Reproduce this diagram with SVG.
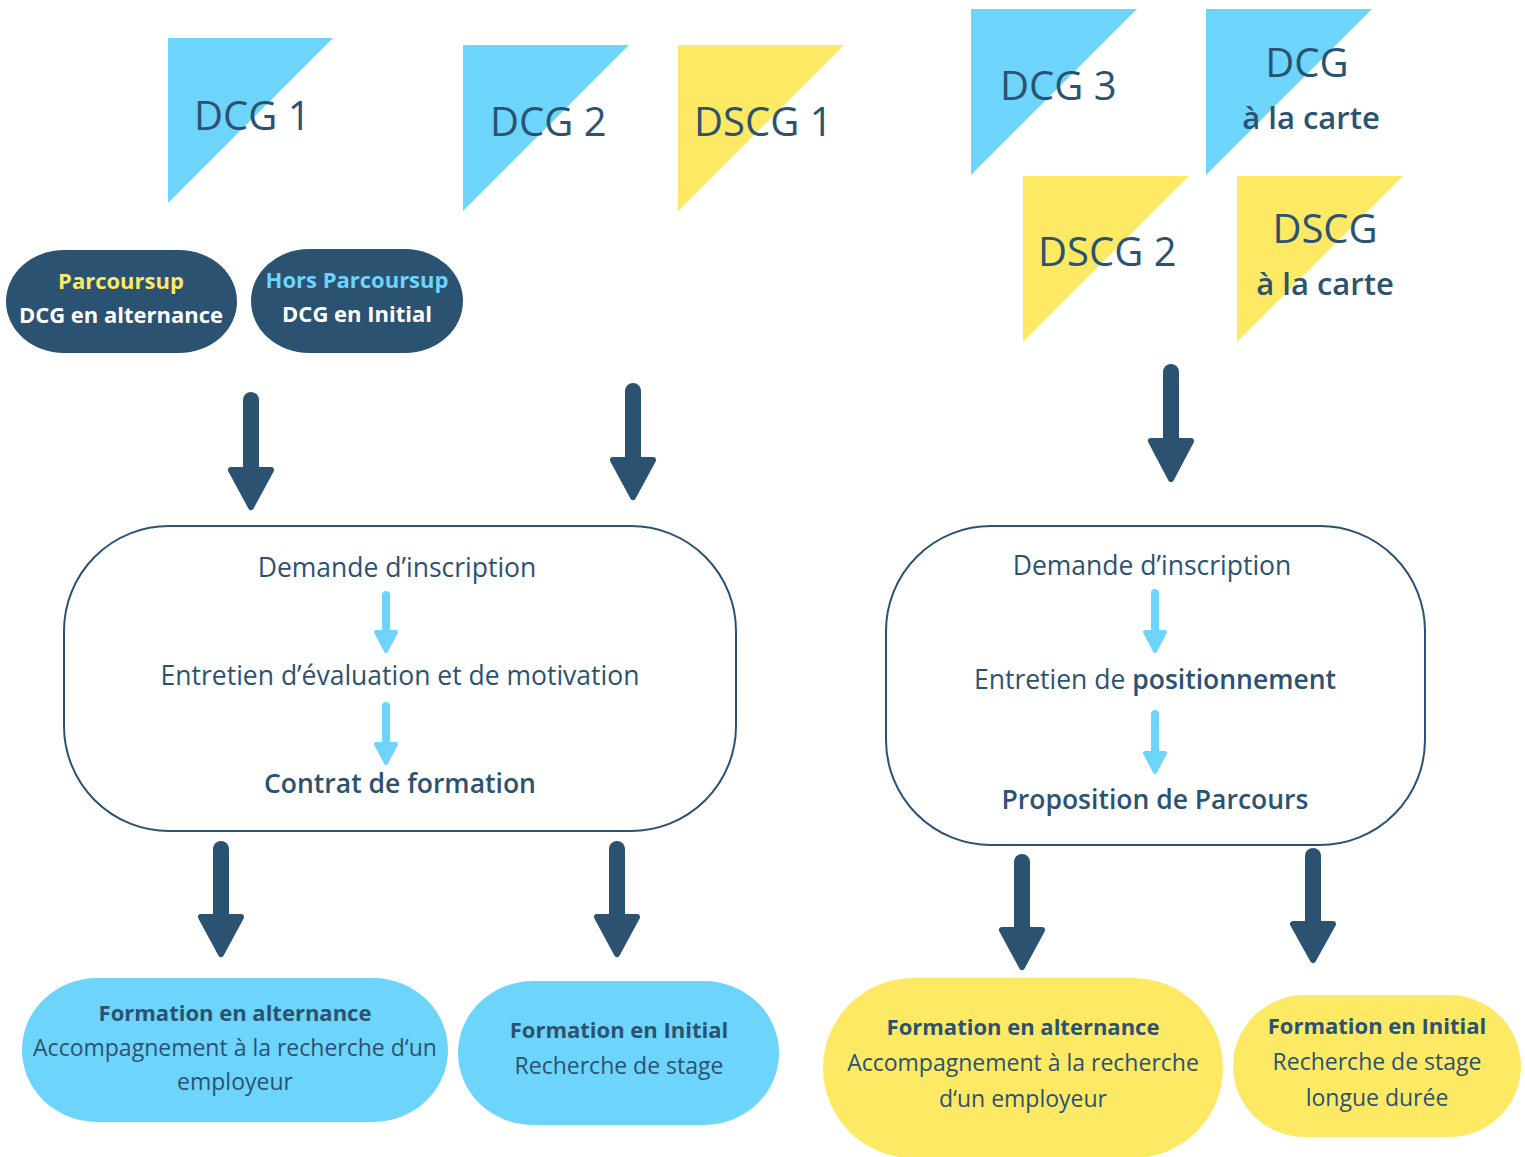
<svg xmlns="http://www.w3.org/2000/svg" width="1525" height="1157" viewBox="0 0 1525 1157">
<defs>
<style>
.blue{fill:#6dd5fb}
.yel{fill:#fee964}
.dark{fill:#2c5272}
.t{font-family:"Open Sans","Noto Sans","Liberation Sans",sans-serif;fill:#2c5272}
.big{font-size:40px}
.car{font-size:31px;font-weight:600}
.body{font-size:26.5px;text-anchor:middle}
.bb{font-weight:600}
.b{font-weight:700}
.pill{font-size:22px;text-anchor:middle}
.reg{font-size:23px}
.sh{stroke:#2c5272;stroke-width:16;stroke-linecap:round;fill:none}
.hd{fill:#2c5272;stroke:#2c5272;stroke-width:6;stroke-linejoin:round}
.lsh{stroke:#6dd5fb;stroke-width:8;stroke-linecap:round;fill:none}
.lhd{fill:#6dd5fb;stroke:#6dd5fb;stroke-width:4;stroke-linejoin:round}
.box{fill:#fff;stroke:#2c5272;stroke-width:2}
</style>
</defs>
<rect width="1525" height="1157" fill="#fff"/>

<g id="dcg1"><polygon class="blue" points="168,38 333,38 168,203"/><text class="t big" x="194" y="130">DCG 1</text></g>
<g id="dcg2"><polygon class="blue" points="463,45 629,45 463,211"/><text class="t big" x="490" y="136">DCG 2</text></g>
<g id="dscg1"><polygon class="yel" points="678,45 844,45 678,211"/><text class="t big" x="694" y="136">DSCG 1</text></g>
<g id="dcg3"><polygon class="blue" points="971,9 1137,9 971,175"/><text class="t big" x="1000" y="100">DCG 3</text></g>
<g id="dcg-carte"><polygon class="blue" points="1206,9 1372,9 1206,175"/><text class="t big" x="1307" y="77" text-anchor="middle">DCG</text><text class="t car" x="1311" y="129" text-anchor="middle">à la carte</text></g>
<g id="dscg2"><polygon class="yel" points="1023,176 1189,176 1023,342"/><text class="t big" x="1038" y="266">DSCG 2</text></g>
<g id="dscg-carte"><polygon class="yel" points="1237,176 1403,176 1237,342"/><text class="t big" x="1325" y="243" text-anchor="middle">DSCG</text><text class="t car" x="1325" y="295" text-anchor="middle">à la carte</text></g>

<g id="parcoursup"><rect class="dark" x="6" y="250" width="231" height="103" rx="58" ry="51.5"/><text class="t pill b" x="121" y="289" style="fill:#fee964">Parcoursup</text><text class="t pill b" x="121" y="323" style="fill:#fff">DCG en alternance</text></g>
<g id="hors-parcoursup"><rect class="dark" x="251" y="249" width="212" height="104" rx="58" ry="52"/><text class="t pill b" x="357" y="288" style="fill:#6dd5fb">Hors Parcoursup</text><text class="t pill b" x="357" y="322" style="fill:#fff">DCG en Initial</text></g>

<g id="box-dcg"><rect class="box" x="64" y="526" width="672" height="305" rx="105" ry="105"/>
<text class="t body" x="397" y="577">Demande d’inscription</text>
<text class="t body" x="400" y="685">Entretien d’évaluation et de motivation</text>
<text class="t body bb" x="400" y="793">Contrat de formation</text>
<line class="lsh" x1="386" y1="595" x2="386" y2="632"/><polygon class="lhd" points="376,632 396,632 386,651"/>
<line class="lsh" x1="386" y1="706" x2="386" y2="744"/><polygon class="lhd" points="376,744 396,744 386,763"/>
</g>

<g id="box-dscg"><rect class="box" x="886" y="526" width="539" height="319" rx="105" ry="105"/>
<text class="t body" x="1152" y="575">Demande d’inscription</text>
<text class="t body" x="1155" y="689">Entretien de <tspan class="bb">positionnement</tspan></text>
<text class="t body bb" x="1155" y="809">Proposition de Parcours</text>
<line class="lsh" x1="1155" y1="593" x2="1155" y2="632"/><polygon class="lhd" points="1145,632 1165,632 1155,651"/>
<line class="lsh" x1="1155" y1="714" x2="1155" y2="753"/><polygon class="lhd" points="1145,753 1165,753 1155,772"/>
</g>

<g id="alt-dcg"><rect class="blue" x="22" y="978" width="426" height="144" rx="75" ry="72"/>
<text class="t pill b" x="235" y="1021">Formation en alternance</text>
<text class="t pill reg" x="235" y="1056">Accompagnement à la recherche d‘un</text>
<text class="t pill reg" x="235" y="1090">employeur</text></g>
<g id="init-dcg"><rect class="blue" x="458" y="981" width="321" height="144" rx="75" ry="72"/>
<text class="t pill b" x="619" y="1038">Formation en Initial</text>
<text class="t pill reg" x="619" y="1074">Recherche de stage</text></g>
<g id="alt-dscg"><rect class="yel" x="823" y="978" width="400" height="180" rx="90" ry="90"/>
<text class="t pill b" x="1023" y="1035">Formation en alternance</text>
<text class="t pill reg" x="1023" y="1071">Accompagnement à la recherche</text>
<text class="t pill reg" x="1023" y="1107">d‘un employeur</text></g>
<g id="init-dscg"><rect class="yel" x="1233" y="995" width="288" height="142" rx="72" ry="71"/>
<text class="t pill b" x="1377" y="1034">Formation en Initial</text>
<text class="t pill reg" x="1377" y="1070">Recherche de stage</text>
<text class="t pill reg" x="1377" y="1106">longue durée</text></g>

<g id="connectors">
<line class="sh" x1="251" y1="400" x2="251" y2="470"/><polygon class="hd" points="231,470 271,470 251,507"/>
<line class="sh" x1="633" y1="391" x2="633" y2="460"/><polygon class="hd" points="613,460 653,460 633,497"/>
<line class="sh" x1="1171" y1="372" x2="1171" y2="441"/><polygon class="hd" points="1151,441 1191,441 1171,479"/>
<line class="sh" x1="221" y1="849" x2="221" y2="917"/><polygon class="hd" points="201,917 241,917 221,954"/>
<line class="sh" x1="617" y1="849" x2="617" y2="917"/><polygon class="hd" points="597,917 637,917 617,954"/>
<line class="sh" x1="1022" y1="862" x2="1022" y2="930"/><polygon class="hd" points="1002,930 1042,930 1022,967"/>
<line class="sh" x1="1313" y1="856" x2="1313" y2="924"/><polygon class="hd" points="1293,924 1333,924 1313,960"/>
</g>
</svg>
